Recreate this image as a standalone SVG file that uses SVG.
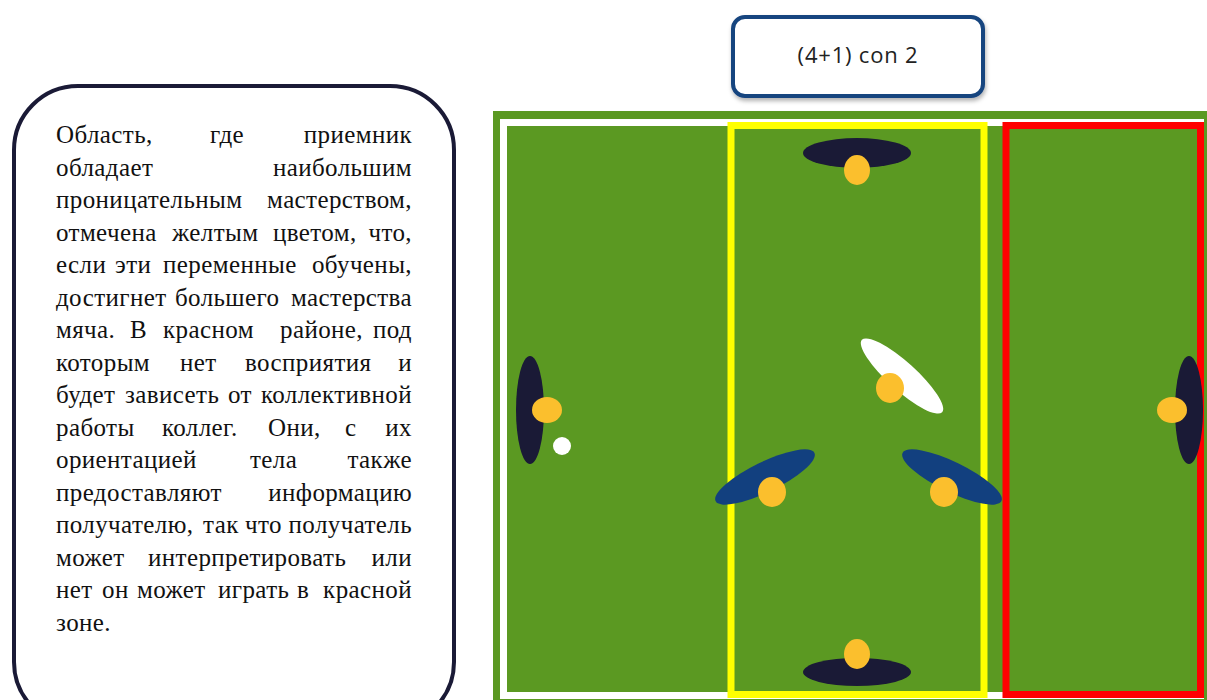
<svg xmlns="http://www.w3.org/2000/svg" width="1207" height="700" viewBox="0 0 1207 700">
<style>
.t{font-family:"Liberation Serif","Times New Roman",serif;font-size:25px;letter-spacing:0.4px;fill:#111}
.e{text-anchor:end}
.head{fill:#FBBF2D}
.dark{fill:#1A1A36}
.blue{fill:#12407F}
</style>
<defs>
<filter id="sh" x="-10%" y="-10%" width="120%" height="130%">
<feDropShadow dx="1" dy="3" stdDeviation="2" flood-color="#000" flood-opacity="0.3"/>
</filter>
</defs>
<rect width="1207" height="700" fill="#fff"/>
<g id="textbox">
<rect x="14" y="86" width="440" height="640" rx="64" fill="#fff" stroke="#1A1A36" stroke-width="4"/>
<text class="t" y="143"><tspan x="56">Область,</tspan><tspan x="210">где</tspan><tspan x="412" class="e">приемник</tspan></text>
<text class="t" y="175.5"><tspan x="56">обладает</tspan><tspan x="412" class="e">наибольшим</tspan></text>
<text class="t" y="208"><tspan x="56">проницательным</tspan><tspan x="412" class="e">мастерством,</tspan></text>
<text class="t" y="240.5"><tspan x="56">отмечена</tspan><tspan x="172">желтым</tspan><tspan x="273">цветом,</tspan><tspan x="412" class="e">что,</tspan></text>
<text class="t" y="273"><tspan x="56">если</tspan><tspan x="115">эти</tspan><tspan x="163">переменные</tspan><tspan x="412" class="e">обучены,</tspan></text>
<text class="t" y="305.5"><tspan x="56">достигнет</tspan><tspan x="175">большего</tspan><tspan x="412" class="e">мастерства</tspan></text>
<text class="t" y="338"><tspan x="56">мяча.</tspan><tspan x="130">В</tspan><tspan x="163">красном</tspan><tspan x="280">районе,</tspan><tspan x="412" class="e">под</tspan></text>
<text class="t" y="370.5"><tspan x="56">которым</tspan><tspan x="180">нет</tspan><tspan x="245">восприятия</tspan><tspan x="412" class="e">и</tspan></text>
<text class="t" y="403"><tspan x="56">будет</tspan><tspan x="125">зависеть</tspan><tspan x="228">от</tspan><tspan x="412" class="e">коллективной</tspan></text>
<text class="t" y="435.5"><tspan x="56">работы</tspan><tspan x="162">коллег.</tspan><tspan x="268">Они,</tspan><tspan x="345">с</tspan><tspan x="412" class="e">их</tspan></text>
<text class="t" y="468"><tspan x="56">ориентацией</tspan><tspan x="250">тела</tspan><tspan x="412" class="e">также</tspan></text>
<text class="t" y="500.5"><tspan x="56">предоставляют</tspan><tspan x="412" class="e">информацию</tspan></text>
<text class="t" y="533"><tspan x="56">получателю,</tspan><tspan x="203">так</tspan><tspan x="245">что</tspan><tspan x="412" class="e">получатель</tspan></text>
<text class="t" y="565.5"><tspan x="56">может</tspan><tspan x="148">интерпретировать</tspan><tspan x="412" class="e">или</tspan></text>
<text class="t" y="598"><tspan x="56">нет</tspan><tspan x="102">он</tspan><tspan x="137">может</tspan><tspan x="218">играть</tspan><tspan x="297">в</tspan><tspan x="412" class="e">красной</tspan></text>
<text class="t" y="630.5"><tspan x="56">зоне.</tspan></text>
</g>
<g id="title">
<rect x="733" y="17" width="250" height="79" rx="12" fill="#fff" stroke="#17457F" stroke-width="4" filter="url(#sh)"/>
<text x="858" y="63" text-anchor="middle" font-family="'Open Sans','Liberation Sans',sans-serif" font-size="22" letter-spacing="0.8" fill="#222">(4+1) con 2</text>
</g>
<g id="field">
<rect x="493" y="111" width="714" height="589" fill="#5B9922"/>
<rect x="503.5" y="122.5" width="697" height="573" fill="none" stroke="#fff" stroke-width="7"/>
<rect x="731" y="125.5" width="253" height="569" fill="none" stroke="#FFFF00" stroke-width="7"/>
<rect x="1006" y="125.5" width="194.5" height="569" fill="none" stroke="#FF0000" stroke-width="7"/>
</g>
<g id="players">
<g id="p-left"><ellipse class="dark" cx="530" cy="410" rx="14" ry="54"/><ellipse class="head" cx="547" cy="410" rx="15" ry="13"/></g>
<circle id="ball" cx="562" cy="446" r="9" fill="#fff"/>
<g id="p-top"><ellipse class="dark" cx="857" cy="153" rx="54" ry="15"/><ellipse class="head" cx="857" cy="170" rx="13" ry="15"/></g>
<g id="p-bottom"><ellipse class="dark" cx="857" cy="672" rx="54" ry="14"/><ellipse class="head" cx="857" cy="654" rx="13" ry="15"/></g>
<g id="p-right"><ellipse class="dark" cx="1189" cy="410" rx="14" ry="54"/><ellipse class="head" cx="1172" cy="410" rx="15" ry="13"/></g>
<g id="p-white"><ellipse cx="902" cy="376" rx="54" ry="14" fill="#fff" transform="rotate(42 902 376)"/><ellipse class="head" cx="890" cy="388" rx="14" ry="15"/></g>
<g id="p-blue-r"><ellipse class="blue" cx="952" cy="477" rx="55" ry="15" transform="rotate(26 952 477)"/><ellipse class="head" cx="944" cy="492" rx="14" ry="15"/></g>
<g id="p-blue-l"><ellipse class="blue" cx="765" cy="477" rx="55" ry="15" transform="rotate(-26 765 477)"/><ellipse class="head" cx="772" cy="492" rx="14" ry="15"/></g>
</g>
</svg>
